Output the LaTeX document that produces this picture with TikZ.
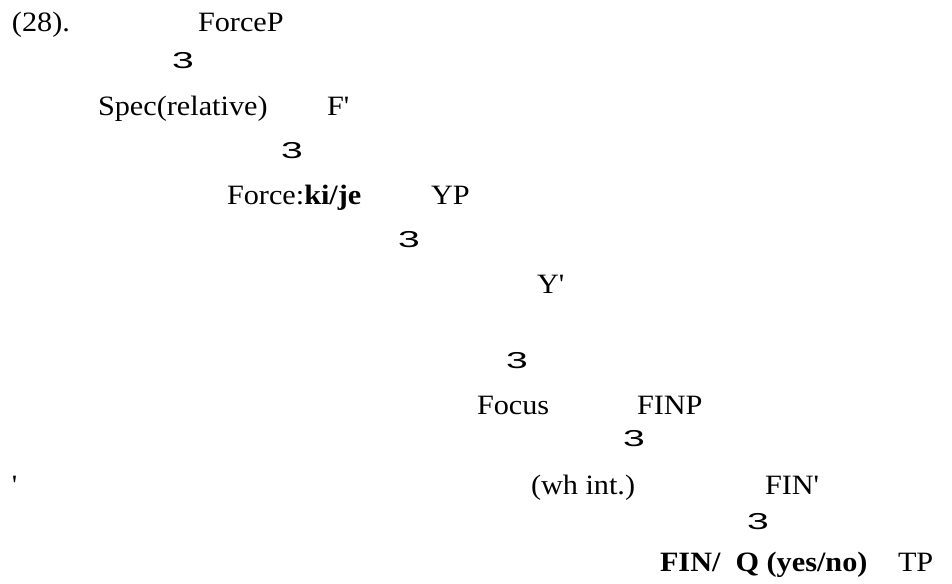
\documentclass[tikz,border=0pt]{standalone}
\usepackage{fontspec}
\setmainfont[FakeStretch=1.08]{Liberation Serif}
\newfontfamily\branchfont{Liberation Sans}
\begin{document}
\begin{tikzpicture}[x=1pt,y=-1pt,
  every node/.style={inner sep=0pt, outer sep=0pt},
  lbl/.style={anchor=base west, font=\fontsize{28}{32}\selectfont},
  branch/.style={anchor=center, font=\branchfont\fontsize{23}{28}\selectfont}]
\useasboundingbox[fill=white] (0,0) rectangle (952,583);
% branching marks: a wide, flattened "3"
\newcommand{\brmark}{\scalebox{1.7}[1.0]{3}}
% labels of the tree, row by row
\node[lbl] (n28)    at (12,32)  {(28).};
\node[lbl] (forcep) at (198,32) {ForceP};
\node[branch] (br1) at (183,61) {\brmark};
\node[lbl] (spec)   at (98,116) {Spec(relative)};
\node[lbl] (fbar)   at (327,116) {F\textquotesingle};
\node[branch] (br2) at (292,151) {\brmark};
\node[lbl] (force)  at (227,204) {Force:\textbf{ki/je}};
\node[lbl] (yp)     at (431,204) {YP};
\node[branch] (br3) at (409,240) {\brmark};
\node[lbl] (ybar)   at (537,293) {Y\textquotesingle};
\node[branch] (br4) at (517,361) {\brmark};
\node[lbl] (focus)  at (477,414) {Focus};
\node[lbl] (finp)   at (637,414) {FINP};
\node[branch] (br5) at (634,439) {\brmark};
\node[lbl] (prime)  at (12,494) {\textquotesingle};
\node[lbl] (whint)  at (531,494) {(wh int.)};
\node[lbl] (finbar) at (765,494) {FIN\textquotesingle};
\node[branch] (br6) at (758,522) {\brmark};
\node[lbl] (fin)    at (660,571) {\textbf{FIN/\ \ Q (yes/no)}};
\node[lbl] (tp)     at (898,571) {TP};
\end{tikzpicture}
\end{document}
